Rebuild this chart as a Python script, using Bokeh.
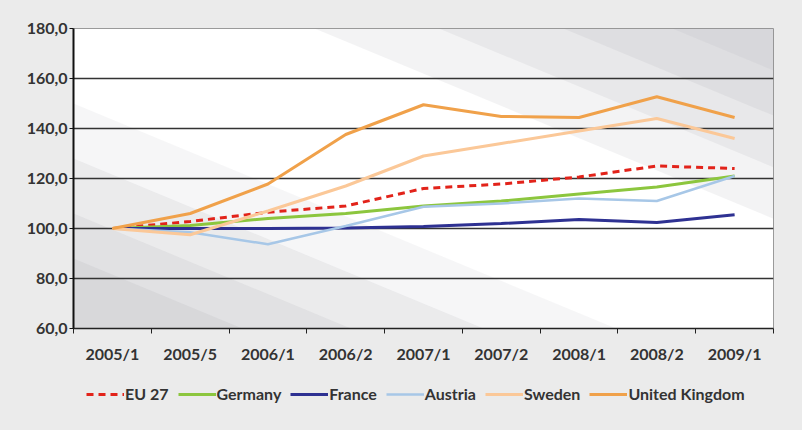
from bokeh.plotting import figure
from bokeh.layouts import column
from bokeh.models import (FixedTicker, CustomJSTickFormatter, Legend, LegendItem,
                          Range1d, ColumnDataSource)
from bokeh.embed import file_html
from bokeh.resources import INLINE

categories = ["2005/1", "2005/5", "2006/1", "2006/2", "2007/1",
              "2007/2", "2008/1", "2008/2", "2009/1"]
eu27 = [100.0, 102.8, 106.5, 109.0, 116.0, 117.8, 120.6, 125.0, 124.0]
germany = [100.0, 101.2, 104.0, 106.0, 109.0, 111.0, 113.8, 116.6, 121.0]
france = [100.0, 100.0, 100.0, 100.2, 100.8, 102.0, 103.6, 102.4, 105.5]
austria = [100.0, 98.5, 93.7, 101.0, 108.7, 110.0, 112.0, 111.0, 121.0]
sweden = [100.0, 97.5, 107.0, 117.0, 129.0, 134.0, 139.0, 144.0, 136.0]
uk = [100.0, 106.0, 117.8, 137.6, 149.5, 144.8, 144.4, 152.7, 144.4]

series_names = ["EU 27", "Germany", "France", "Austria", "Sweden", "United Kingdom"]
series_values = [eu27, germany, france, austria, sweden, uk]

y_ticks = [60, 80, 100, 120, 140, 160, 180]

FONT = "Lato"
FS = "16px"
BG = "#ebebeb"
styles = {
    "EU 27": dict(color="#e2231a", width=3, dash="7 5"),
    "Germany": dict(color="#8cc63e", width=3, dash="solid"),
    "France": dict(color="#2e3192", width=3, dash="solid"),
    "Austria": dict(color="#a7c7e7", width=2.5, dash="solid"),
    "Sweden": dict(color="#fbc898", width=3, dash="solid"),
    "United Kingdom": dict(color="#f0a14a", width=3, dash="solid"),
}

x_idx = list(range(len(categories)))

p = figure(width=802, height=365, output_backend="svg", toolbar_location=None,
           x_range=Range1d(-0.5, len(categories) - 0.5), y_range=Range1d(60, 180),
           min_border_left=73, min_border_right=29, min_border_top=28,
           min_border_bottom=34)
p.background_fill_color = "white"
p.border_fill_color = BG
p.outline_line_color = "#9a9a9a"
p.outline_line_width = 1

# decorative diagonal background bands (style only)
slope = -12.9
x0, x1 = -0.5, len(categories) - 0.5
for a, alpha in [(2.6, 0.10), (4.2, 0.10), (5.8, 0.10), (7.2, 0.08)]:
    r = p.patch([a, x1, x1], [180, 180, 180 + slope * (x1 - a)],
                fill_color="#8a8c94", fill_alpha=alpha, line_color=None)
    r.level = "image"
for b, alpha in [(150, 0.08), (128, 0.10), (106, 0.10), (88, 0.10)]:
    xe = x0 + (b - 60) / -slope
    r = p.patch([x0, x0, xe], [b, 60, 60],
                fill_color="#8a8c94", fill_alpha=alpha, line_color=None)
    r.level = "image"

sources = {}
for name, vals in zip(series_names, series_values):
    st = styles[name]
    src = ColumnDataSource(dict(x=x_idx, y=vals))
    sources[name] = src
    p.line("x", "y", source=src, line_color=st["color"], line_width=st["width"],
           line_dash=st["dash"])

# axes
p.xaxis.ticker = FixedTicker(ticks=x_idx, minor_ticks=[i - 0.5 for i in range(len(categories) + 1)])
p.xaxis.major_label_overrides = {i: c for i, c in enumerate(categories)}
p.xaxis.major_tick_line_color = None
p.xaxis.major_tick_out = 5
p.xaxis.major_tick_in = 0
p.xaxis.minor_tick_line_color = "#222222"
p.xaxis.minor_tick_out = 5
p.xaxis.minor_tick_in = 0
p.xaxis.axis_line_color = "#222222"
p.xaxis.axis_line_width = 1.5
p.xaxis.major_label_standoff = 10
p.xaxis.major_label_text_font = FONT
p.xaxis.major_label_text_font_style = "bold"
p.xaxis.major_label_text_font_size = FS
p.xaxis.major_label_text_color = "#333333"

p.yaxis.ticker = FixedTicker(ticks=y_ticks)
p.yaxis.formatter = CustomJSTickFormatter(code="return tick.toFixed(1).replace('.', ',');")
p.yaxis.axis_line_color = "#111111"
p.yaxis.axis_line_width = 2
p.yaxis.major_tick_line_color = "#111111"
p.yaxis.major_tick_out = 4
p.yaxis.major_tick_in = 0
p.yaxis.minor_tick_line_color = None
p.yaxis.major_label_standoff = 2
p.yaxis.major_label_text_font = FONT
p.yaxis.major_label_text_font_style = "bold"
p.yaxis.major_label_text_font_size = FS
p.yaxis.major_label_text_color = "#333333"

p.xgrid.grid_line_color = None
p.ygrid.grid_line_color = "#333333"
p.ygrid.grid_line_width = 1.5

# legend strip as a second figure; its lines use the same data but lie outside its view
lg = figure(width=802, height=65, output_backend="svg", toolbar_location=None,
            x_range=Range1d(-0.5, len(categories) - 0.5), y_range=Range1d(0, 1),
            min_border_left=73, min_border_right=29, min_border_top=0, min_border_bottom=0)
lg.axis.visible = False
lg.grid.visible = False
lg.outline_line_color = None
lg.background_fill_color = BG
lg.border_fill_color = BG
items = []
for name in series_names:
    st = styles[name]
    r = lg.line("x", "y", source=sources[name], line_color=st["color"],
                line_width=st["width"], line_dash=st["dash"])
    items.append(LegendItem(label=name, renderers=[r]))

legend = Legend(items=items, orientation="horizontal", location=(13, 27),
                glyph_width=38, glyph_height=16, spacing=9, label_standoff=1,
                padding=0, margin=0)
legend.label_text_font = FONT
legend.label_text_font_style = "bold"
legend.label_text_font_size = FS
legend.label_text_color = "#333333"
legend.background_fill_alpha = 0
legend.border_line_color = None
lg.add_layout(legend, "center")

layout = column(p, lg, spacing=0, styles={"background-color": BG})
open("out.html", "w").write(file_html(layout, INLINE))
